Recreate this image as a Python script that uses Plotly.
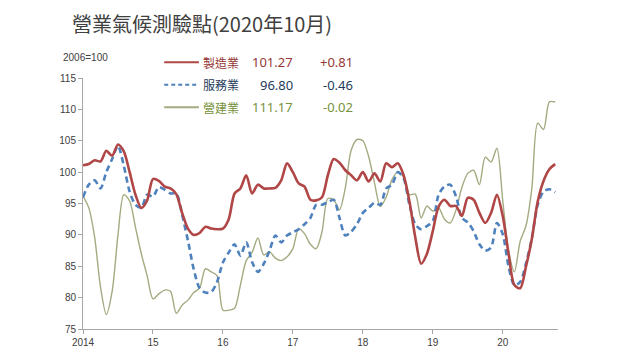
import plotly.graph_objects as go

# Monthly data, Jan 2014 .. Oct 2020
start_year = 2014
manufacturing = [101.1, 101.3, 101.9, 101.7, 103.4, 102.6, 104.4, 103.3, 100.0, 96.4, 94.3, 95.5,
                 98.9, 98.6, 97.7, 97.4, 96.5, 93.5, 91.0, 90.0, 90.3, 91.3, 91.0, 90.9,
                 91.0, 92.5, 96.6, 97.4, 99.5, 96.6, 98.0, 97.4, 97.4, 97.5, 98.7, 101.4,
                 100.0, 98.2, 97.7, 95.6, 95.5, 96.0, 99.5, 102.1, 101.5, 100.3, 99.5, 98.7,
                 100.0, 98.5, 99.8, 98.5, 101.4, 100.8, 101.4, 99.5, 95.3, 89.6, 85.4, 87.0,
                 90.6, 94.5, 95.6, 94.6, 94.6, 93.0, 95.9, 95.6, 93.5, 91.9, 93.5, 96.4,
                 93.0, 87.0, 82.0, 81.5, 85.0, 89.4, 95.3, 98.6, 100.46, 101.27]
services = [96.0, 98.0, 98.7, 97.4, 100.0, 102.1, 104.2, 101.0, 96.9, 94.8, 94.3, 96.4,
            96.1, 97.6, 97.2, 96.6, 96.6, 93.2, 89.1, 84.5, 81.5, 80.8, 80.9, 82.5,
            85.6, 87.2, 88.5, 86.7, 88.8, 85.7, 84.1, 85.4, 87.5, 89.9, 88.8, 89.9,
            90.4, 90.9, 91.7, 92.7, 94.8, 94.8, 95.2, 95.6, 92.7, 89.9, 90.5, 91.7,
            93.5, 94.3, 95.1, 94.8, 97.4, 98.0, 100.0, 99.0, 94.8, 91.7, 90.9, 91.4,
            92.2, 96.4, 97.7, 98.0, 96.1, 92.7, 92.0, 90.6, 88.5, 87.5, 88.0, 91.9,
            90.1, 85.0, 82.0, 82.5, 85.5, 89.5, 94.8, 96.9, 97.26, 96.80]
construction = [96.2, 94.3, 89.6, 81.7, 77.3, 81.0, 90.0, 96.4, 95.4, 91.2, 87.0, 83.5,
                79.8, 80.6, 81.2, 81.0, 77.5, 78.8, 79.6, 80.8, 81.5, 84.6, 84.1, 83.5,
                78.0, 78.0, 78.3, 82.0, 85.9, 87.2, 89.5, 86.8, 87.3, 86.3, 85.9, 86.5,
                87.8, 91.0, 90.2, 88.5, 87.8, 90.5, 95.8, 95.6, 94.0, 97.5, 103.5, 105.2,
                105.0, 102.5, 98.3, 94.5, 96.0, 98.8, 100.0, 99.2, 96.4, 96.5, 92.7, 94.6,
                93.8, 94.3, 92.5, 91.9, 94.0, 97.6, 99.8, 100.3, 98.0, 102.4, 101.6, 103.8,
                95.5, 87.5, 84.1, 89.0, 91.5, 97.5, 107.8, 106.8, 111.19, 111.17]

series_names = ["製造業", "服務業", "營建業"]
latest_values = ["101.27", "96.80", "111.17"]
changes = ["+0.81", "-0.46", "-0.02"]
tick_years = [2014, 2015, 2016, 2017, 2018, 2019, 2020]
tick_labels = ["2014", "15", "16", "17", "18", "19", "20"]
y_ticks = [75, 80, 85, 90, 95, 100, 105, 110, 115]

x = [start_year + i / 12 for i in range(len(manufacturing))]

line_colors = ["#B04646", "#4F81BD", "#A3AB80"]
text_colors = ["#953735", "#1F3B5C", "#76923C"]
font = "Noto Sans CJK TC, Noto Sans, sans-serif"

fig = go.Figure()
fig.add_trace(go.Scatter(x=x, y=construction, mode="lines", line=dict(color=line_colors[2], width=1.4, shape="spline", smoothing=0.8), name=series_names[2]))
fig.add_trace(go.Scatter(x=x, y=services, mode="lines", line=dict(color=line_colors[1], width=2.6, dash="6px,4px", shape="spline", smoothing=0.8), name=series_names[1]))
fig.add_trace(go.Scatter(x=x, y=manufacturing, mode="lines", line=dict(color=line_colors[0], width=2.6, shape="spline", smoothing=0.8), name=series_names[0]))

annotations = [
    dict(text="營業氣候測驗點(2020年10月)", xref="paper", yref="paper", x=-0.028, y=1.219,
         xanchor="left", yanchor="middle", showarrow=False,
         font=dict(family=font, size=20, color="#404040")),
    dict(text="2006=100", xref="paper", yref="paper", x=-0.047, y=1.082,
         xanchor="left", yanchor="middle", showarrow=False,
         font=dict(family="Liberation Sans, Arial", size=10, color="#404040")),
]
shapes = []
row_y = [1.0625, 0.973, 0.883]
dashes = ["solid", "4px,3px", "solid"]
for i in range(3):
    shapes.append(dict(type="line", xref="paper", yref="paper", x0=0.171, x1=0.244,
                       y0=row_y[i], y1=row_y[i],
                       line=dict(color=line_colors[i], width=2, dash=dashes[i])))
    annotations.append(dict(text=series_names[i], xref="paper", yref="paper", x=0.248, y=row_y[i],
                            xanchor="left", yanchor="middle", showarrow=False,
                            font=dict(family=font, size=12, color=text_colors[i])))
    annotations.append(dict(text=latest_values[i], xref="paper", yref="paper", x=0.447, y=row_y[i],
                            xanchor="right", yanchor="middle", showarrow=False,
                            font=dict(family="Noto Sans, sans-serif", size=13, color=text_colors[i])))
    annotations.append(dict(text=changes[i], xref="paper", yref="paper", x=0.572, y=row_y[i],
                            xanchor="right", yanchor="middle", showarrow=False,
                            font=dict(family="Noto Sans, sans-serif", size=13, color=text_colors[i])))

fig.update_layout(
    width=632, height=352,
    margin=dict(l=75, r=82, t=70, b=26),
    plot_bgcolor="white", paper_bgcolor="white",
    showlegend=False,
    annotations=annotations, shapes=shapes,
    xaxis=dict(range=[2014, 2020.79], tickvals=tick_years, ticktext=tick_labels,
               showgrid=False, zeroline=False, showline=True, linecolor="#A6A6A6", linewidth=1,
               ticks="outside", ticklen=4, tickcolor="#A6A6A6",
               tickfont=dict(family="Liberation Sans, Arial", size=10, color="#404040")),
    yaxis=dict(range=[75, 115], tickvals=y_ticks,
               showgrid=False, zeroline=False, showline=True, linecolor="#A6A6A6", linewidth=1,
               ticks="outside", ticklen=4, tickcolor="#A6A6A6",
               tickfont=dict(family="Liberation Sans, Arial", size=10, color="#404040")),
)

fig.write_html("out.html")
